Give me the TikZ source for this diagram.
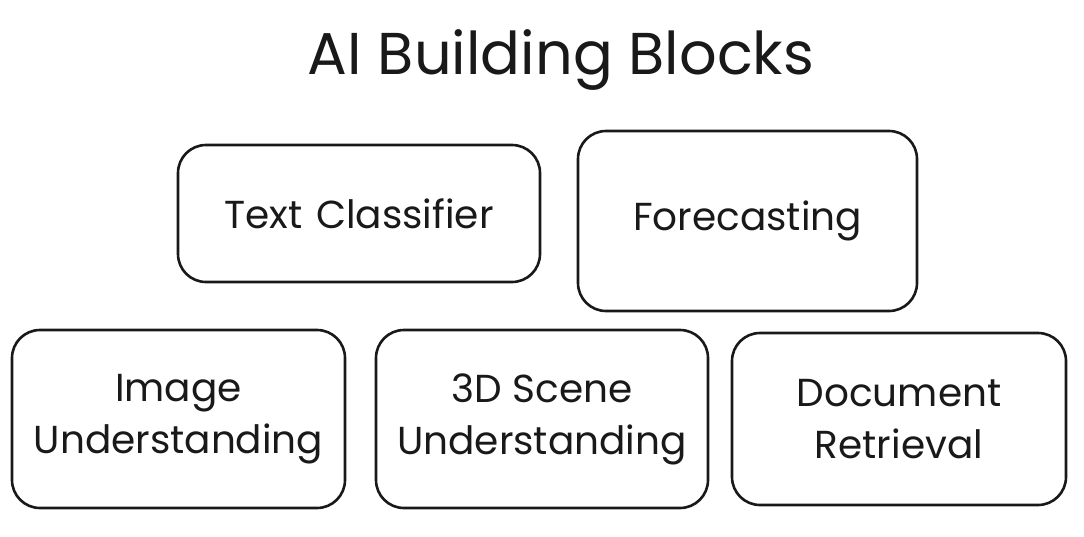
\documentclass[tikz,border=0pt]{standalone}
\usepackage{fontspec}
\setmainfont{Poppins}
\begin{document}
\begin{tikzpicture}[x=1pt,y=-1pt,
  block/.style={draw=black!90, line width=2.6pt, rounded corners=28pt, align=center, inner sep=0pt,
    font=\fontsize{39}{52}\selectfont, text=black!90},
  titlestyle/.style={font=\fontsize{59}{60}\selectfont, text=black!90, inner sep=0pt}]
\useasboundingbox (0,0) rectangle (1084,536);
\node[titlestyle] (title) at (561,60) {AI Building Blocks};
\node[block, minimum width=362pt, minimum height=137pt] (tc) at (359,213.5) {Text\hspace{0.35em}Classifier};
\node[block, minimum width=339pt, minimum height=180pt] (fc) at (747.5,221) {Forecasting};
\node[block, minimum width=333pt, minimum height=178pt] (iu) at (178.5,419) {Image\\Understanding};
\node[block, minimum width=332pt, minimum height=178pt] (su) at (542,419) {3D Scene\\Understanding};
\node[block, minimum width=334pt, minimum height=172pt] (dr) at (899,419) {Document\\Retrieval};
\end{tikzpicture}
\end{document}
